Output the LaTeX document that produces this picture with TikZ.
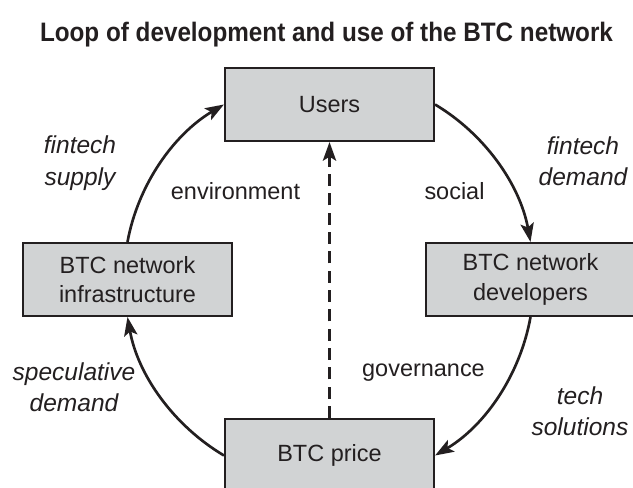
\documentclass[tikz,border=0pt]{standalone}
\usepackage{fontspec}
\setmainfont{Liberation Sans}
\usetikzlibrary{arrows.meta}
\definecolor{ink}{HTML}{231F20}
\definecolor{boxfill}{HTML}{D1D3D4}

\begin{document}
\begin{tikzpicture}[x=0.75pt,y=0.75pt,
  stagebox/.style={draw=ink, fill=boxfill, line width=1.6pt,
    minimum width=209*0.75pt, minimum height=73*0.75pt, inner sep=0pt,
    align=center, text=ink, font=\fontsize{17.6}{22.2}\selectfont},
  flow/.style={draw=ink, line width=2pt,
    -{Stealth[length=14pt,width=10pt,inset=3pt]}},
  cue/.style={text=ink, inner sep=0pt, font=\fontsize{17.6}{22}\selectfont},
  driver/.style={text=ink, inner sep=0pt, align=center,
    font=\fontsize{18.4}{23.5}\selectfont\itshape},
]
\useasboundingbox (0,0) rectangle (633,-488);
\fill[white] (0,0) rectangle (633,-488);

% heading
\node[anchor=base, inner sep=0pt, text=ink,
  font=\fontsize{18.2}{22}\selectfont\bfseries] (title) at (326.5,-42)
  {\scalebox{1}[1.1]{Loop of development and use of the BTC network}};

% the four stages of the loop
\node[stagebox] (users) at (329.5,-104.5) {Users};
\node[stagebox] (infra) at (127.5,-279.5) {BTC network\\infrastructure};
\node[stagebox] (devs)  at (530.5,-279.5) {BTC network\\developers};
\node[stagebox] (price) at (329.5,-455.5) {BTC price};

% circular flow, clockwise
\draw[flow] (infra.north) to[out=79.6,  in=210.8, looseness=0.89] (users.west);
\draw[flow] (users.east)  to[out=-30.8, in=100.4, looseness=0.89] (devs.north);
\draw[flow] (devs.south)  to[out=-100.2,in=30.8,  looseness=0.89] (price.east);
\draw[flow] (price.west)  to[out=149.2, in=280.1, looseness=0.89] (infra.south);

% feedback from price to users
\draw[flow, line width=1.8pt, dash pattern=on 9pt off 5.5pt] (price.north) -- (users.south);

% labels
\node[driver] (supply) at (80,-163) {fintech\\supply};
\node[driver] (fdemand) at (583,-161) {fintech\\demand};
\node[driver] (spec) at (74,-387) {speculative\\demand};
\node[driver] (tech) at (580,-411) {tech\\solutions};
\node[cue, anchor=base] (env) at (235.5,-200) {environment};
\node[cue, anchor=base] (social) at (454.5,-200) {social};
\node[cue, anchor=base] (gov) at (423.5,-377) {governance};
\end{tikzpicture}
\end{document}
